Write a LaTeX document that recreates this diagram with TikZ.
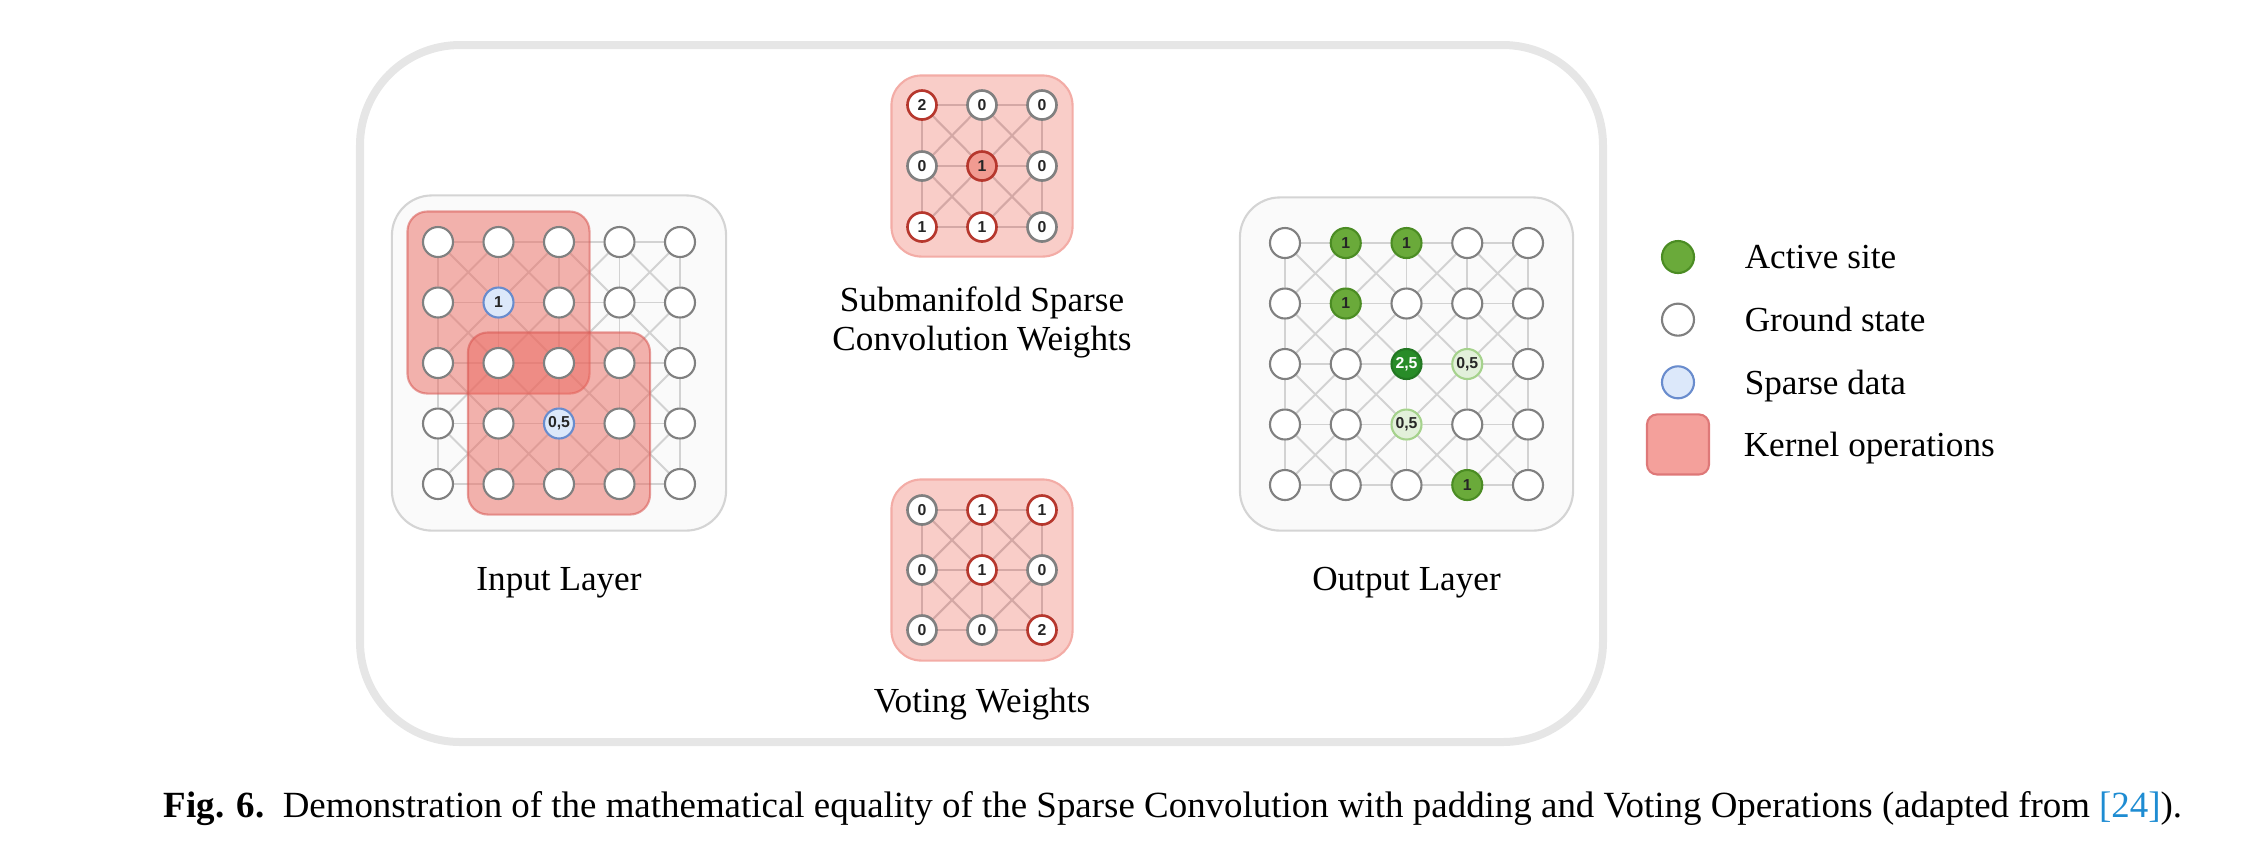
\documentclass[tikz,border=0pt]{standalone}
\usepackage{fontspec}
\setmainfont{Liberation Serif}
\newfontfamily\sitefamily{Liberation Sans}
\usepackage{xcolor}
\usetikzlibrary{positioning}

\definecolor{framegray}{RGB}{230,230,230}
\definecolor{panelgray}{RGB}{212,212,212}
\definecolor{groundgray}{RGB}{128,128,128}
\definecolor{gridgray}{RGB}{210,210,210}
\definecolor{kernelfill}{RGB}{236,105,95}
\definecolor{kernelline}{RGB}{215,85,80}
\definecolor{weightfill}{RGB}{249,205,200}
\definecolor{weightline}{RGB}{243,172,166}
\definecolor{weightgrid}{RGB}{212,168,165}
\definecolor{weightred}{RGB}{182,55,45}
\definecolor{corefill}{RGB}{241,155,145}
\definecolor{activegreen}{RGB}{106,170,58}
\definecolor{activeline}{RGB}{75,140,35}
\definecolor{peakgreen}{RGB}{40,140,40}
\definecolor{softgreen}{RGB}{226,240,218}
\definecolor{softgreenline}{RGB}{165,210,140}
\definecolor{sparseblue}{RGB}{220,232,250}
\definecolor{sparseline}{RGB}{105,140,205}
\definecolor{legendred}{RGB}{244,160,155}
\definecolor{legendline}{RGB}{222,120,120}
\definecolor{citeblue}{RGB}{30,140,210}

\newcommand\halfw{0,5}
\newcommand\peakw{2,5}
\newcommand\blank{}

\pgfdeclarelayer{back}
\pgfdeclarelayer{lines}
\pgfdeclarelayer{kernel}
\pgfsetlayers{back,lines,kernel,main}

\begin{document}
\begin{tikzpicture}[
    x=0.01cm, y=-0.01cm,
    site/.style={circle, draw=groundgray, line width=0.6pt, fill=white, minimum size=0.3cm, inner sep=0pt, font=\sitefamily\bfseries\fontsize{4.5}{5}\selectfont, text=black!85},
    sparse/.style={site, draw=sparseline, fill=sparseblue},
    active/.style={site, draw=activeline, fill=activegreen},
    peak/.style={site, draw=peakgreen!85!black, fill=peakgreen, text=white},
    weak/.style={site, draw=softgreenline, fill=softgreen},
    wzero/.style={site, minimum size=0.29cm, line width=0.75pt},
    wred/.style={wzero, draw=weightred},
    wcore/.style={wred, fill=corefill},
    lattice/.style={draw=gridgray, line width=0.55pt},
    wlattice/.style={draw=weightgrid, line width=0.6pt},
    panelbox/.style={draw=panelgray, fill=black!2, line width=0.6pt, rounded corners=0.4cm, inner sep=0pt},
    kernel/.style={fill=kernelfill, fill opacity=0.5, draw=kernelline, draw opacity=0.55, line width=0.6pt, rounded corners=0.2cm, inner sep=0pt, minimum size=1.82cm},
    weightbox/.style={fill=weightfill, draw=weightline, line width=0.6pt, rounded corners=0.3cm, inner sep=0pt, minimum size=1.81cm},
    layertext/.style={font=\fontsize{10}{11.1}\selectfont, align=center, inner sep=0pt},
    legendtext/.style={font=\fontsize{10}{12}\selectfont, inner sep=0pt, text depth=0pt}
]
    \useasboundingbox (0,0) rectangle (2259,856);

    % Input layer sites
    \foreach \row [count=\ri from 0] in {%
        {site/\blank,site/\blank,site/\blank,site/\blank,site/\blank},%
        {site/\blank,sparse/1,site/\blank,site/\blank,site/\blank},%
        {site/\blank,site/\blank,site/\blank,site/\blank,site/\blank},%
        {site/\blank,site/\blank,sparse/\halfw,site/\blank,site/\blank},%
        {site/\blank,site/\blank,site/\blank,site/\blank,site/\blank}}{
        \foreach \s/\t [count=\ci from 0] in \row
            \node[\s] (in-\ri-\ci) at ({438+60.5*\ci},{242+60.5*\ri}) {\t};
    }

    % Output layer sites
    \foreach \row [count=\ri from 0] in {%
        {site/\blank,active/1,active/1,site/\blank,site/\blank},%
        {site/\blank,active/1,site/\blank,site/\blank,site/\blank},%
        {site/\blank,site/\blank,peak/\peakw,weak/\halfw,site/\blank},%
        {site/\blank,site/\blank,weak/\halfw,site/\blank,site/\blank},%
        {site/\blank,site/\blank,site/\blank,active/1,site/\blank}}{
        \foreach \s/\t [count=\ci from 0] in \row
            \node[\s] (out-\ri-\ci) at ({1285+60.75*\ci},{243+60.5*\ri}) {\t};
    }

    % Submanifold sparse convolution weights
    \foreach \row [count=\ri from 0] in {%
        {wred/2,wzero/0,wzero/0},%
        {wzero/0,wcore/1,wzero/0},%
        {wred/1,wred/1,wzero/0}}{
        \foreach \s/\t [count=\ci from 0] in \row
            \node[\s] (sub-\ri-\ci) at ({922+60*\ci},{105+61*\ri}) {\t};
    }

    % Voting weights
    \foreach \row [count=\ri from 0] in {%
        {wzero/0,wred/1,wred/1},%
        {wzero/0,wred/1,wzero/0},%
        {wzero/0,wzero/0,wred/2}}{
        \foreach \s/\t [count=\ci from 0] in \row
            \node[\s] (vote-\ri-\ci) at ({922+60*\ci},{510+60*\ri}) {\t};
    }

    % Frame, panels and weight boxes
    \begin{pgfonlayer}{back}
        \draw[draw=framegray, line width=0.08cm, rounded corners=1cm] (360,45) rectangle (1603,742);
        \node[panelbox, minimum width=3.34cm, minimum height=3.35cm] (inpanel) at (in-2-2) {};
        \node[panelbox, minimum width=3.33cm, minimum height=3.33cm] (outpanel) at (out-2-2) {};
        \node[weightbox] (subbox) at (sub-1-1) {};
        \node[weightbox] (votebox) at (vote-1-1) {};
    \end{pgfonlayer}

    % Lattice connections
    \begin{pgfonlayer}{lines}
        \foreach \g/\m/\n/\ls in {in/3/4/lattice,out/3/4/lattice,sub/1/2/wlattice,vote/1/2/wlattice}{
            \foreach \ri in {0,...,\n}{
                \foreach \ci [evaluate=\ci as \cc using int(\ci+1)] in {0,...,\m}{
                    \draw[\ls] (\g-\ri-\ci) -- (\g-\ri-\cc);
                    \draw[\ls] (\g-\ci-\ri) -- (\g-\cc-\ri);
                }
            }
            \foreach \ri [evaluate=\ri as \rr using int(\ri+1)] in {0,...,\m}{
                \foreach \ci [evaluate=\ci as \cc using int(\ci+1)] in {0,...,\m}{
                    \draw[\ls] (\g-\ri-\ci) -- (\g-\rr-\cc);
                    \draw[\ls] (\g-\ri-\cc) -- (\g-\rr-\ci);
                }
            }
        }
    \end{pgfonlayer}

    % Kernel operations on the input
    \begin{pgfonlayer}{kernel}
        \node[kernel] (kernelA) at (in-1-1) {};
        \node[kernel] (kernelB) at (in-3-2) {};
    \end{pgfonlayer}

    % Labels
    \node[layertext, below=0.35cm of inpanel] (inlabel) {Input Layer};
    \node[layertext, below=0.35cm of outpanel] (outlabel) {Output Layer};
    \node[layertext, below=0.28cm of subbox] (sublabel) {Submanifold Sparse\\Convolution Weights};
    \node[layertext, below=0.26cm of votebox] (votelabel) {Voting Weights};

    % Legend
    \node[active, minimum size=0.32cm] (legactive) at (1678,257) {};
    \node[site, minimum size=0.32cm, below=0.285cm of legactive] (legground) {};
    \node[sparse, minimum size=0.32cm, below=0.285cm of legground] (legsparse) {};
    \node[fill=legendred, draw=legendline, line width=0.6pt, rounded corners=0.1cm, minimum width=0.62cm, minimum height=0.6cm, below=0.14cm of legsparse] (legkernel) {};
    \node[legendtext, right=0.49cm of legactive] (legactivetext) {Active site};
    \node[legendtext, right=0.49cm of legground] (leggroundtext) {Ground state};
    \node[legendtext, right=0.49cm of legsparse] (legsparsetext) {Sparse data};
    \node[legendtext, right=0.33cm of legkernel] (legkerneltext) {Kernel operations};

    % Caption
    \node[font=\fontsize{10.5}{12}\selectfont, inner sep=0pt, text depth=0pt] (caption) at (1173,804)
        {\textbf{Fig. 6.}\ \ Demonstration of the mathematical equality of the Sparse Convolution with padding and Voting Operations (adapted from \textcolor{citeblue}{[24]}).};
\end{tikzpicture}
\end{document}
